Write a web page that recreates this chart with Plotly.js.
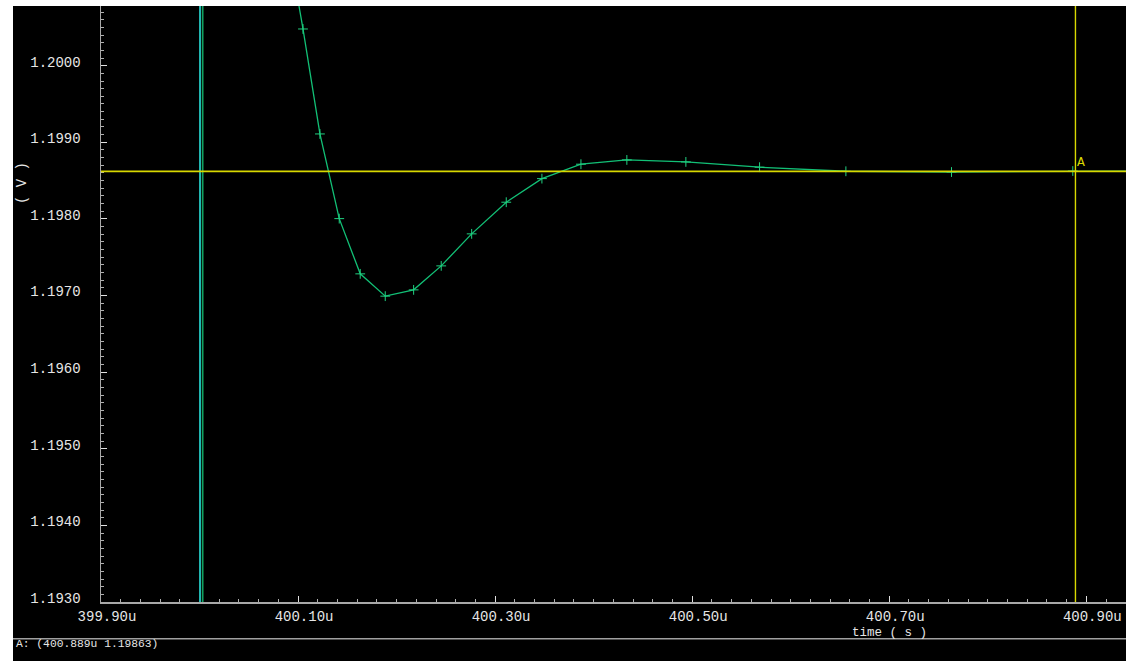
<!DOCTYPE html>
<html>
<head>
<meta charset="utf-8">
<script src="https://cdn.plot.ly/plotly-3.0.1.min.js"></script>
<style>
  html, body { margin: 0; padding: 0; background: #ffffff; width: 1126px; height: 661px; overflow: hidden; }
  #chart { position: absolute; left: 13px; top: 6px; width: 1113px; height: 655px; background: #000; }
</style>
</head>
<body>
<div id="chart"></div>
<script>
// time in microseconds, voltage in volts
const timeU = [400.0918, 400.1050, 400.1222, 400.1418, 400.1631, 400.1885, 400.2173, 400.2453,
               400.2762, 400.3113, 400.3475, 400.3871, 400.4337, 400.4936, 400.5684, 400.6560,
               400.7632, 400.8863, 401.0100];
const voltage = [1.201457, 1.200479, 1.199109, 1.198004, 1.197283, 1.196992, 1.197074, 1.197387,
                 1.197805, 1.198218, 1.198526, 1.198714, 1.198770, 1.198744, 1.198675, 1.198622,
                 1.198612, 1.198625, 1.198628];

const xTickVals = [399.90, 400.10, 400.30, 400.50, 400.70, 400.90];
const xTickText = ["399.90u", "400.10u", "400.30u", "400.50u", "400.70u", "400.90u"];
const yTickVals = [1.1930, 1.1940, 1.1950, 1.1960, 1.1970, 1.1980, 1.1990, 1.2000];
const yTickText = ["1.1930", "1.1940", "1.1950", "1.1960", "1.1970", "1.1980", "1.1990", "1.2000"];

const cursorCyanT = 400.0005;
const cursorGreenT = 400.0032;
const cursorA_T = 400.889;
const cursorA_V = 1.19862;
const statusText = "A: (400.889u 1.19863)";

const xRange = [399.90, 400.9403];
const yRange = [1.1930, 1.200779];

const mono = "Liberation Mono, DejaVu Sans Mono, monospace";
const axisGray = "#a8a8a8";

const trace = {
  x: timeU, y: voltage, type: "scatter", mode: "lines+markers",
  line: { color: "#12c076", width: 1.3 },
  marker: { symbol: "cross-thin", size: 7, line: { color: "#20d080", width: 1 } },
  cliponaxis: true, hoverinfo: "none"
};

const layout = {
  width: 1113, height: 655,
  margin: { l: 88, r: 0, t: 0, b: 59, pad: 0 },
  paper_bgcolor: "#000000", plot_bgcolor: "#000000",
  showlegend: false,
  font: { family: mono, color: "#e6e6e6", size: 14 },
  xaxis: {
    range: xRange, showgrid: false, zeroline: false,
    showline: true, linecolor: axisGray, linewidth: 1.5,
    tickmode: "array", tickvals: xTickVals, ticktext: xTickText,
    ticks: "inside", ticklen: 6, tickcolor: "#e0e0e0", tickwidth: 1,
    ticklabelshift: 6, ticklabelstandoff: 1,
    tickfont: { family: mono, size: 14, color: "#e6e6e6" },
    minor: { tickmode: "linear", tick0: 399.90, dtick: 0.02, ticks: "inside", ticklen: 3, tickcolor: "#b0b0b0", tickwidth: 1, showgrid: false }
  },
  yaxis: {
    range: yRange, showgrid: false, zeroline: false,
    showline: true, linecolor: axisGray, linewidth: 1.5,
    tickmode: "array", tickvals: yTickVals, ticktext: yTickText,
    ticks: "inside", ticklen: 6, tickcolor: "#e0e0e0", tickwidth: 1,
    ticklabelshift: -4, ticklabelstandoff: 16,
    tickfont: { family: mono, size: 14, color: "#e6e6e6" },
    minor: { tickmode: "linear", tick0: 1.1930, dtick: 0.0001, ticks: "inside", ticklen: 3, tickcolor: "#b0b0b0", tickwidth: 1, showgrid: false }
  },
  shapes: [
    { type: "line", xref: "x", yref: "paper", x0: cursorCyanT, x1: cursorCyanT, y0: 0, y1: 1,
      line: { color: "#22b8b4", width: 2 } },
    { type: "line", xref: "x", yref: "paper", x0: cursorGreenT, x1: cursorGreenT, y0: 0, y1: 1,
      line: { color: "#12a060", width: 1.7 } },
    { type: "line", xref: "paper", yref: "y", x0: 0, x1: 1, y0: cursorA_V, y1: cursorA_V,
      line: { color: "#d8d800", width: 1.6 } },
    { type: "line", xref: "x", yref: "paper", x0: cursorA_T, x1: cursorA_T, y0: 0, y1: 1,
      line: { color: "#d8d800", width: 1.4 } },
    { type: "line", xref: "paper", yref: "paper", x0: -88/1025, x1: 1, y0: -0.0616, y1: -0.0616,
      line: { color: "#a0a0a0", width: 1.6 } }
  ],
  annotations: [
    { text: "( V )", xref: "paper", yref: "paper", x: -0.0771, y: 0.703, textangle: -90,
      showarrow: false, xanchor: "center", yanchor: "middle",
      font: { family: mono, size: 14, color: "#e6e6e6" } },
    { text: "time ( s )", xref: "x", yref: "paper", x: 400.70, y: -0.0512,
      showarrow: false, xanchor: "center", yanchor: "middle",
      font: { family: mono, size: 12.5, color: "#e6e6e6" } },
    { text: statusText, xref: "paper", yref: "paper", x: -87/1025, y: -0.0705,
      showarrow: false, xanchor: "left", yanchor: "middle",
      font: { family: mono, size: 11.3, color: "#e6e6e6" } },
    { text: "A", xref: "x", yref: "y", x: cursorA_T, y: cursorA_V, xshift: 0, yshift: -1,
      showarrow: false, xanchor: "left", yanchor: "bottom",
      font: { family: mono, size: 13, color: "#d8d800" } }
  ]
};

Plotly.newPlot("chart", [trace], layout, { displayModeBar: false, staticPlot: true });
</script>
</body>
</html>
